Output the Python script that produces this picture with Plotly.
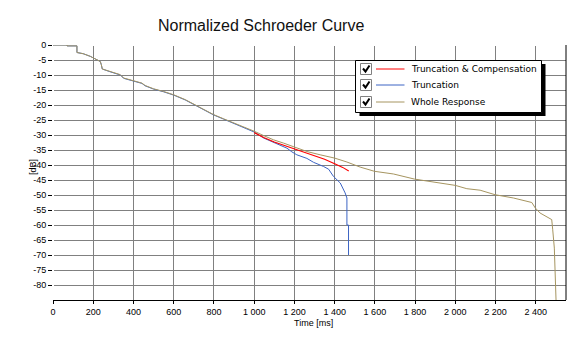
import plotly.graph_objects as go

# ---------------- data ----------------
whole_t = [0, 70, 70, 119, 119, 150, 186, 200, 220, 235, 240, 245, 283, 335, 351, 400, 442,
           458, 500, 550, 600, 657, 699, 748, 798, 848, 881, 947, 1002, 1047, 1096, 1146,
           1200, 1262, 1328, 1400, 1461, 1527, 1598, 1693, 1797, 1891, 2000, 2057, 2123,
           2197, 2289, 2380, 2397, 2421, 2455, 2479, 2484, 2492, 2501]
whole_db = [0, 0, -0.3, -0.3, -2.5, -2.9, -3.8, -4.3, -4.9, -5.5, -6.5, -8.0, -8.8, -9.9, -11.0,
            -11.8, -12.7, -13.5, -14.6, -15.5, -16.6, -18.2, -19.7, -21.6, -23.2, -24.6, -25.5,
            -27.1, -28.8, -30.2, -31.6, -32.7, -34.1, -35.5, -36.6, -37.7, -39.0, -40.7, -42.1,
            -43.0, -44.7, -45.7, -46.8, -47.9, -48.4, -49.9, -51.0, -52.5, -54.3, -56.0, -57.3,
            -58.2, -61.6, -67.7, -86.0]

trunc_t = [0, 70, 70, 119, 119, 150, 186, 200, 220, 235, 240, 245, 283, 335, 351, 400, 442,
           458, 500, 550, 600, 657, 699, 748, 798, 848, 881, 947, 1000, 1047, 1096, 1163,
           1187, 1212, 1262, 1295, 1345, 1370, 1394, 1428, 1452, 1461, 1461, 1469, 1469]
trunc_db = [0, 0, -0.3, -0.3, -2.5, -2.9, -3.8, -4.3, -4.9, -5.5, -6.5, -8.0, -8.9, -10.0,
            -11.1, -11.9, -12.8, -13.6, -14.7, -15.6, -16.7, -18.3, -19.8, -21.7, -23.3, -24.7,
            -25.6, -27.3, -29.0, -31.0, -32.5, -34.4, -35.6, -36.6, -37.8, -39.1, -40.5, -41.4,
            -43.8, -46.0, -49.3, -51.0, -60.0, -60.0, -70.0]

comp_t = [1000, 1050, 1100, 1150, 1200, 1250, 1300, 1350, 1400, 1440, 1470]
comp_db = [-29.2, -30.9, -32.3, -33.5, -34.7, -35.9, -37.0, -38.1, -39.6, -40.8, -42.0]

series_names = ["Truncation & Compensation", "Truncation", "Whole Response"]
series_colors = ["#ff0000", "#3c64c4", "#a69560"]

x_tick_vals = [0, 200, 400, 600, 800, 1000, 1200, 1400, 1600, 1800, 2000, 2200, 2400]
x_tick_text = ["0", "200", "400", "600", "800", "1 000", "1 200", "1 400", "1 600",
               "1 800", "2 000", "2 200", "2 400"]
y_tick_vals = [0, -5, -10, -15, -20, -25, -30, -35, -40, -45, -50, -55, -60, -65, -70, -75, -80]
y_tick_text = ["0", "-5", "-10", "-15", "-20", "-25", "-30", "-35", "-40", "-45", "-50",
               "-55", "-60", "-65", "-70", "-75", "-80"]

title_text = "Normalized Schroeder Curve"
x_title = "Time [ms]"
y_title = "[dB]"

# ---------------- layout geometry (pixels) ----------------
W, H = 581, 345
L, R, T, B = 53, 566, 45, 300


def px(x):
    return (x - L) / (R - L)


def py(y):
    return (B - y) / (B - T)


fig = go.Figure()
fig.add_trace(go.Scatter(x=trunc_t, y=trunc_db, mode="lines", name=series_names[1],
                         line=dict(color=series_colors[1], width=1), showlegend=False))
fig.add_trace(go.Scatter(x=comp_t, y=comp_db, mode="lines", name=series_names[0],
                         line=dict(color=series_colors[0], width=1.1), showlegend=False))
fig.add_trace(go.Scatter(x=whole_t, y=whole_db, mode="lines", name=series_names[2],
                         line=dict(color=series_colors[2], width=1), showlegend=False))

small = dict(family="Liberation Sans, Arial, sans-serif", size=9, color="black")

fig.update_layout(
    width=W, height=H,
    margin=dict(l=L, r=W - R, t=T, b=H - B, pad=0),
    paper_bgcolor="white", plot_bgcolor="white",
    showlegend=False,
    xaxis=dict(range=[0, 2550], tickvals=x_tick_vals, ticktext=x_tick_text,
               showgrid=True, gridcolor="#808080", gridwidth=1,
               zeroline=True, zerolinecolor="white", zerolinewidth=1,
               showline=True, linecolor="black", linewidth=1,
               ticks="outside", ticklen=3, tickcolor="black", tickfont=small),
    yaxis=dict(range=[-85, 0], tickvals=y_tick_vals, ticktext=y_tick_text,
               showgrid=True, gridcolor="#808080", gridwidth=1,
               zeroline=True, zerolinecolor="white", zerolinewidth=1,
               showline=False, ticks="outside", ticklen=4, tickcolor="black",
               tickfont=small),
)

annotations = [
    dict(text=title_text, x=px(261), y=py(25), xref="paper", yref="paper",
         showarrow=False, xanchor="center", yanchor="middle",
         font=dict(family="Liberation Sans, Arial, sans-serif", size=16, color="#111111")),
    dict(text=x_title, x=px(313), y=py(323), xref="paper", yref="paper",
         showarrow=False, xanchor="center", yanchor="middle", font=small),
    dict(text=y_title, x=px(33), y=py(167), xref="paper", yref="paper", textangle=-90,
         showarrow=False, xanchor="center", yanchor="middle", font=small),
]

shapes = [
    # right border
    dict(type="line", xref="paper", yref="paper", x0=1, x1=1, y0=0, y1=1,
         line=dict(color="black", width=1)),
    # legend shadow and box
    dict(type="rect", xref="paper", yref="paper", x0=px(359.5), x1=px(545.5),
         y0=py(116), y1=py(64), fillcolor="black", line=dict(width=0)),
    dict(type="rect", xref="paper", yref="paper", x0=px(355.5), x1=px(541.5),
         y0=py(112.5), y1=py(60.5), fillcolor="white", line=dict(color="black", width=1)),
]

legend_rows = [69, 85, 102]
for name, color, yc in zip(series_names, series_colors, legend_rows):
    # checkbox
    shapes.append(dict(type="rect", xref="paper", yref="paper", x0=px(360.5), x1=px(371.5),
                       y0=py(yc + 5.5), y1=py(yc - 5.5), fillcolor="white",
                       line=dict(color="#808080", width=1)))
    shapes.append(dict(type="path", xref="paper", yref="paper",
                       path="M %f,%f L %f,%f L %f,%f" % (px(363), py(yc - 0.5), px(365.5), py(yc + 2.5),
                                                        px(369.5), py(yc - 3.5)),
                       line=dict(color="black", width=2)))
    # line sample
    shapes.append(dict(type="line", xref="paper", yref="paper", x0=px(376), x1=px(404.5),
                       y0=py(yc), y1=py(yc), line=dict(color=color, width=1)))
    annotations.append(dict(text=name, x=px(409), y=py(yc - 0.5), xref="paper", yref="paper",
                            showarrow=False, xanchor="left", yanchor="middle",
                            font=dict(family="DejaVu Sans, sans-serif", size=9, color="black")))

fig.update_layout(annotations=annotations, shapes=shapes)

fig.write_html("out.html")
